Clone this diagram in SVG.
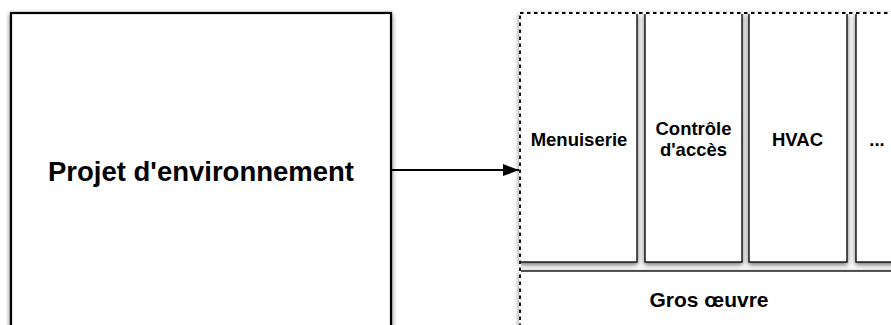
<svg xmlns="http://www.w3.org/2000/svg" width="891" height="325" viewBox="0 0 891 325">
<style>
.box{fill:#ffffff;stroke:#111;stroke-width:1.4}
.main{fill:#ffffff;stroke:#000;stroke-width:2.2}
.lbl{font-family:"Liberation Sans",Arial,Helvetica,sans-serif;font-weight:bold;fill:#000;text-anchor:middle}
.conn{stroke:#000;stroke-width:2;fill:none}
</style>
<defs>
<filter id="sh" x="-20%" y="-20%" width="140%" height="140%">
<feDropShadow dx="0" dy="2" stdDeviation="2.6" flood-color="#000" flood-opacity="0.6"/>
</filter>
<marker id="arr" viewBox="0 0 16 12" refX="16" refY="6" markerWidth="16" markerHeight="12" markerUnits="userSpaceOnUse" orient="auto">
<path d="M0,0 L16,6 L0,12 Z" fill="#000"/>
</marker>
</defs>
<rect width="891" height="325" fill="#ffffff"/>
<g id="projet">
<rect class="main" x="11" y="13" width="380" height="340" filter="url(#sh)"/>
<text class="lbl" x="201" y="181" font-size="27.5">Projet d'environnement</text>
</g>
<g id="menuiserie">
<rect class="box" x="520" y="13" width="117" height="249" filter="url(#sh)"/>
<text class="lbl" x="579" y="146" font-size="18.5">Menuiserie</text>
</g>
<g id="controle">
<rect class="box" x="645" y="13" width="97" height="249" filter="url(#sh)"/>
<text class="lbl" x="693.5" y="134.5" font-size="18.5">Contrôle</text>
<text class="lbl" x="693.5" y="156" font-size="18.5">d'accès</text>
</g>
<g id="hvac">
<rect class="box" x="749" y="13" width="98" height="249" filter="url(#sh)"/>
<text class="lbl" x="797.5" y="146" font-size="18.5">HVAC</text>
</g>
<g id="autres">
<rect class="box" x="856" y="13" width="100" height="249" filter="url(#sh)"/>
<text class="lbl" x="877" y="146" font-size="18.5">...</text>
</g>
<g id="gros-oeuvre">
<rect class="box" x="520" y="271" width="380" height="100" filter="url(#sh)"/>
<text class="lbl" x="709" y="307" font-size="21">Gros œuvre</text>
</g>
<g id="conteneur">
<rect x="520" y="13" width="420" height="360" fill="none" stroke="#ffffff" stroke-width="2"/>
<rect x="520" y="13" width="420" height="360" fill="none" stroke="#000" stroke-width="1.8" stroke-dasharray="3.5,3.5"/>
</g>
<g id="connecteurs">
<line class="conn" x1="391" y1="170" x2="519" y2="170" marker-end="url(#arr)"/>
</g>
</svg>
